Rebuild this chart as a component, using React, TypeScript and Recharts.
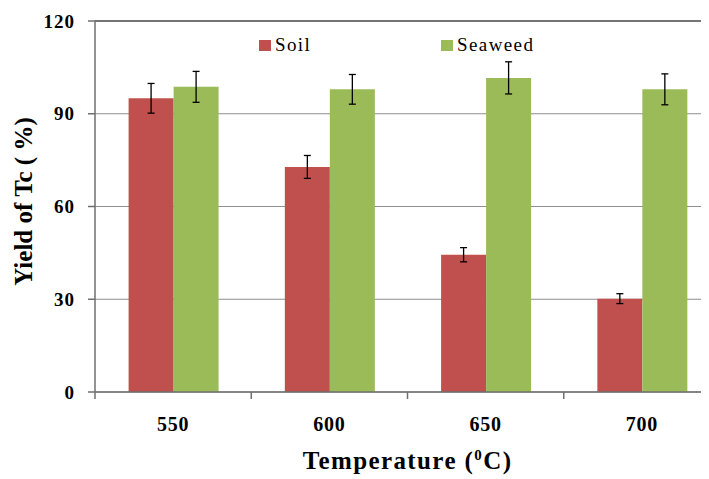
import React from 'react'
import {
  BarChart,
  Bar,
  XAxis,
  YAxis,
  CartesianGrid,
  ErrorBar,
  Legend,
  ReferenceLine,
} from 'recharts'

const temperatures = ['550', '600', '650', '700']
const soilYield = [95.0, 72.8, 44.4, 30.2]
const soilError = [4.8, 3.7, 2.3, 1.6]
const seaweedYield = [98.7, 97.9, 101.6, 97.9]
const seaweedError = [5.0, 4.8, 5.2, 5.0]
const yTicks = [0, 30, 60, 90, 120]
const seriesOrder = ['Soil', 'Seaweed']

const SOIL = '#c0504d'
const SEAWEED = '#9bbb59'
const AXIS = '#6f6f6f'
const GRID = '#8f8f8f'
const FONT = 'Liberation Serif'

const X_TICK_SIZE = 7
const X_TICK_MARGIN = 18

const data = temperatures.map((t, i) => ({
  temp: t,
  soil: soilYield[i],
  soilErr: soilError[i],
  seaweed: seaweedYield[i],
  seaweedErr: seaweedError[i],
}))

// category label plus a tick mark on the left edge of each band
function TempTick(props: any) {
  const { x, y, payload, width, visibleTicksCount } = props
  const half = payload?.offset ?? width / (visibleTicksCount || 4) / 2
  const axisY = y - X_TICK_SIZE - X_TICK_MARGIN
  return (
    <g>
      <line x1={x - half} x2={x - half} y1={axisY} y2={axisY + 7} stroke={AXIS} strokeWidth={1.5} />
      <text
        x={x}
        y={y}
        dy="0.71em"
        textAnchor="middle"
        style={{ fontFamily: FONT, fontWeight: 'bold', fontSize: 20 }}
        fill="#000"
        letterSpacing={0.7}
      >
        {payload.value}
      </text>
    </g>
  )
}

function YTitle(props: any) {
  const { viewBox } = props
  const cx = viewBox.x + 15
  const cy = viewBox.y + viewBox.height / 2 - 5
  return (
    <text
      x={cx}
      y={cy}
      transform={`rotate(-90, ${cx}, ${cy})`}
      textAnchor="middle"
      dominantBaseline="central"
      style={{ fontFamily: FONT, fontWeight: 'bold', fontSize: 25 }}
      fill="#000"
    >
      Yield of Tc ( %)
    </text>
  )
}

function XTitle(props: any) {
  const { viewBox } = props
  const cx = viewBox.x + viewBox.width / 2
  const by = viewBox.y + 77
  return (
    <text
      x={cx}
      y={by}
      textAnchor="middle"
      style={{ fontFamily: FONT, fontWeight: 'bold', fontSize: 25 }}
      fill="#000"
      letterSpacing={1.4}
    >
      Temperature (
      <tspan fontSize={15} dy={-9}>0</tspan>
      <tspan dy={9}>C)</tspan>
    </text>
  )
}

function LegendBox(props: any) {
  const items = [...(props.payload || [])].sort(
    (a: any, b: any) => seriesOrder.indexOf(a.value) - seriesOrder.indexOf(b.value)
  )
  return (
    <div style={{ display: 'flex', fontFamily: FONT, fontSize: 19, color: '#000' }}>
      {items.map((p: any, i: number) => (
        <div
          key={p.value}
          style={{ display: 'flex', alignItems: 'center', width: i === 0 ? 182 : 'auto' }}
        >
          <span
            style={{ display: 'inline-block', width: 12, height: 11, background: p.color, marginRight: 4 }}
          />
          <span style={{ letterSpacing: 1.4 }}>{p.value}</span>
        </div>
      ))}
    </div>
  )
}

export default function App() {
  return (
    <div style={{ width: 701, height: 471, overflow: 'hidden', position: 'relative' }}>
      <BarChart
        width={730}
        height={471}
        data={data}
        margin={{ top: 13, right: 18, bottom: 27, left: 0 }}
        barCategoryGap="21.5%"
        barGap={0}
      >
        <CartesianGrid vertical={false} stroke={GRID} strokeWidth={1} />
        <ReferenceLine y={120} stroke="#5a5a5a" strokeWidth={1.5} />
        <XAxis
          dataKey="temp"
          height={60}
          axisLine={{ stroke: AXIS, strokeWidth: 1.5 }}
          tickLine={false}
          tickSize={X_TICK_SIZE}
          tickMargin={X_TICK_MARGIN}
          tick={<TempTick />}
          interval={0}
          label={<XTitle />}
        />
        <YAxis
          width={87}
          domain={[0, 120]}
          ticks={yTicks}
          interval={0}
          axisLine={{ stroke: AXIS, strokeWidth: 1.5 }}
          tickLine={{ stroke: AXIS, strokeWidth: 1.5 }}
          tickSize={7}
          tickMargin={13}
          tick={{ fontFamily: FONT, fontWeight: 'bold', fontSize: 19, fill: '#000', letterSpacing: 1 }}
          label={<YTitle />}
        />
        <Legend
          layout="horizontal"
          align="center"
          verticalAlign="middle"
          content={<LegendBox />}
          wrapperStyle={{ top: 26, left: 251, width: 'auto' }}
        />
        <Bar dataKey="soil" name="Soil" fill={SOIL} isAnimationActive={false}>
          <ErrorBar dataKey="soilErr" width={3.5} stroke="#000" strokeWidth={1.3} />
        </Bar>
        <Bar dataKey="seaweed" name="Seaweed" fill={SEAWEED} isAnimationActive={false}>
          <ErrorBar dataKey="seaweedErr" width={3.5} stroke="#000" strokeWidth={1.3} />
        </Bar>
      </BarChart>
    </div>
  )
}
